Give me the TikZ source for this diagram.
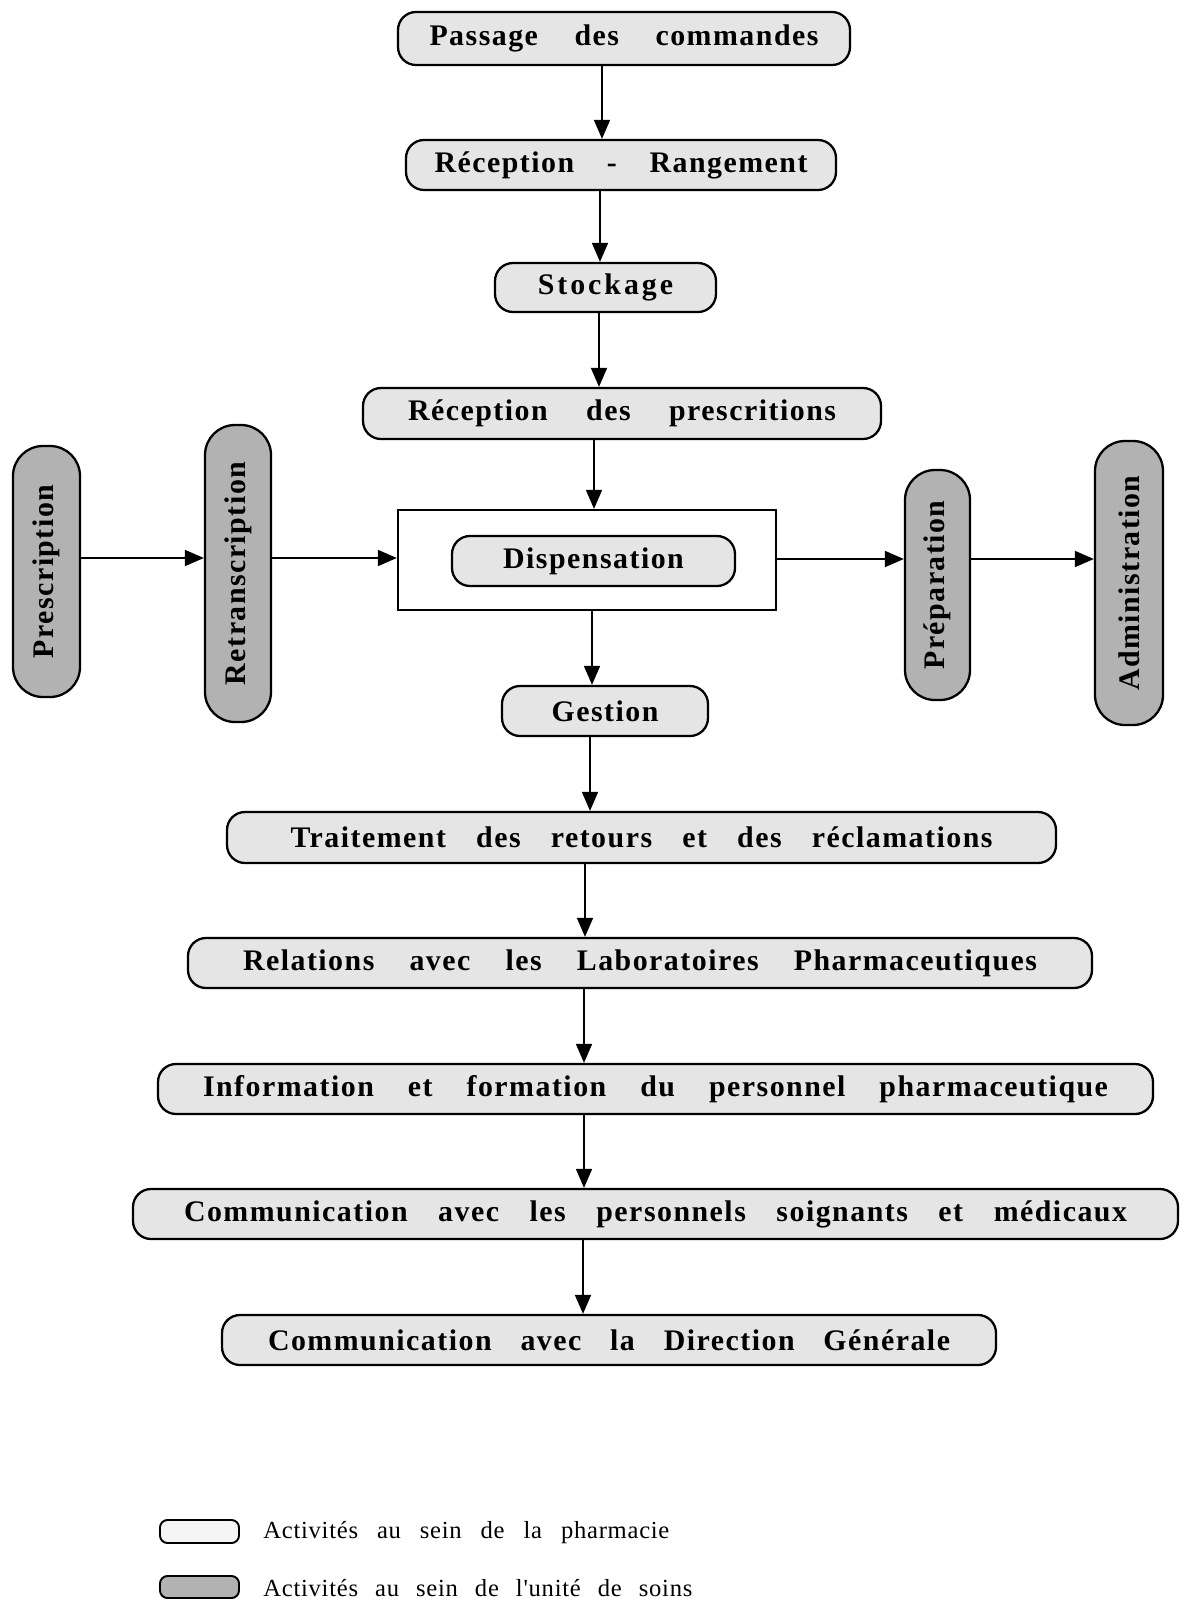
\documentclass[tikz,border=0pt]{standalone}
\usepackage{fontspec}
\setmainfont{Liberation Serif}
\newfontfamily\pillfam[LetterSpace=5]{Liberation Serif}
\newfontfamily\legfam[LetterSpace=3]{Liberation Serif}
\usetikzlibrary{arrows.meta}
\newlength\pxu
\setlength\pxu{0.02cm}
\newcommand\fitw[2]{\makebox[#1\pxu][s]{#2}}
\definecolor{lightfill}{gray}{0.90}
\definecolor{darkfill}{gray}{0.70}
\begin{document}
\begin{tikzpicture}[x=0.02cm,y=-0.02cm,
  sz/.style 2 args={minimum width=#1*0.02cm, minimum height=#2*0.02cm},
  pill/.style={draw, line width=1.3pt, rounded corners=0.36cm, inner sep=0pt, fill=lightfill,
    font=\pillfam\bfseries\fontsize{17}{20}\selectfont},
  vpill/.style={pill, rotate=90, rounded corners=0.6cm, fill=darkfill},
  frame/.style={draw, line width=1.3pt, inner sep=0pt},
  arr/.style={line width=1pt, -{Triangle[length=0.38cm,width=0.32cm]}},
  legpill/.style={draw, line width=1.1pt, rounded corners=0.15cm, inner sep=0pt},
  legtext/.style={anchor=west, inner sep=0pt, font=\legfam\fontsize{14}{16}\selectfont}]
\useasboundingbox (0,0) rectangle (1181,1599);

% main column
\node[pill, sz={452}{53}] (pc) at (624,38.5) {\fitw{389}{Passage des commandes}};
\node[pill, sz={430}{50}] (rr) at (621,165) {\fitw{373}{Réception - Rangement}};
\node[pill, sz={221}{49}] (st) at (605.5,287.5) {\addfontfeatures{LetterSpace=10}Stockage};
\node[pill, sz={518}{51}] (rp) at (622,413.5) {\fitw{428}{Réception des prescritions}};
\node[frame, sz={378}{100}] (dbox) at (587,560) {};
\node[pill, sz={283}{50}] (disp) at (593.5,561) {Dispensation};
\node[pill, sz={206}{50}] (ge) at (605,711) {Gestion};
\node[pill, sz={829}{51}] (tr) at (641.5,837.5) {\fitw{702}{Traitement des retours et des réclamations}};
\node[pill, sz={904}{50}] (re) at (640,963) {\fitw{794}{Relations avec les Laboratoires Pharmaceutiques}};
\node[pill, sz={995}{50}] (inf) at (655.5,1089) {\fitw{905}{Information et formation du personnel pharmaceutique}};
\node[pill, sz={1045}{50}] (cp) at (655.5,1214) {\fitw{943}{Communication avec les personnels soignants et médicaux}};
\node[pill, sz={774}{50}] (cd) at (609,1340) {\fitw{682}{Communication avec la Direction Générale}};

% side (vertical) pills
\node[vpill, sz={251}{67}] (pr) at (46.5,571.5) {Prescription};
\node[vpill, sz={297}{66}] (rt) at (238,573.5) {Retranscription};
\node[vpill, sz={230}{65}] (pp) at (937.5,585) {Préparation};
\node[vpill, sz={284}{68}] (ad) at (1129,583) {Administration};

% arrow guide coordinates
\coordinate (a1) at (602,0);
\coordinate (a2) at (600,0);
\coordinate (a3) at (599,0);
\coordinate (a4) at (594,0);
\coordinate (a5) at (592,0);
\coordinate (a6) at (590,0);
\coordinate (a7) at (585,0);
\coordinate (a8) at (584,0);
\coordinate (a9) at (584,0);
\coordinate (a10) at (583,0);
\coordinate (hl) at (0,558);
\coordinate (hr) at (0,559);

% vertical arrows
\draw[arr] (pc.south -| a1) -- (rr.north -| a1);
\draw[arr] (rr.south -| a2) -- (st.north -| a2);
\draw[arr] (st.south -| a3) -- (rp.north -| a3);
\draw[arr] (rp.south -| a4) -- (dbox.north -| a4);
\draw[arr] (dbox.south -| a5) -- (ge.north -| a5);
\draw[arr] (ge.south -| a6) -- (tr.north -| a6);
\draw[arr] (tr.south -| a7) -- (re.north -| a7);
\draw[arr] (re.south -| a8) -- (inf.north -| a8);
\draw[arr] (inf.south -| a9) -- (cp.north -| a9);
\draw[arr] (cp.south -| a10) -- (cd.north -| a10);

% horizontal arrows
\draw[arr] (pr.south |- hl) -- (rt.north |- hl);
\draw[arr] (rt.south |- hl) -- (dbox.west |- hl);
\draw[arr] (dbox.east |- hr) -- (pp.north |- hr);
\draw[arr] (pp.south |- hr) -- (ad.north |- hr);

% legend
\node[legpill, fill=white!96!black, sz={79}{23}] (lg1) at (199.5,1531.5) {};
\node[legpill, fill=darkfill, sz={79}{22}] (lg2) at (199.5,1587) {};
\node[legtext] (lt1) at (263,1533) {\fitw{406}{Activités au sein de la pharmacie}};
\node[legtext] (lt2) at (263,1588) {\fitw{429}{Activités au sein de l'unité de soins}};
\end{tikzpicture}
\end{document}
